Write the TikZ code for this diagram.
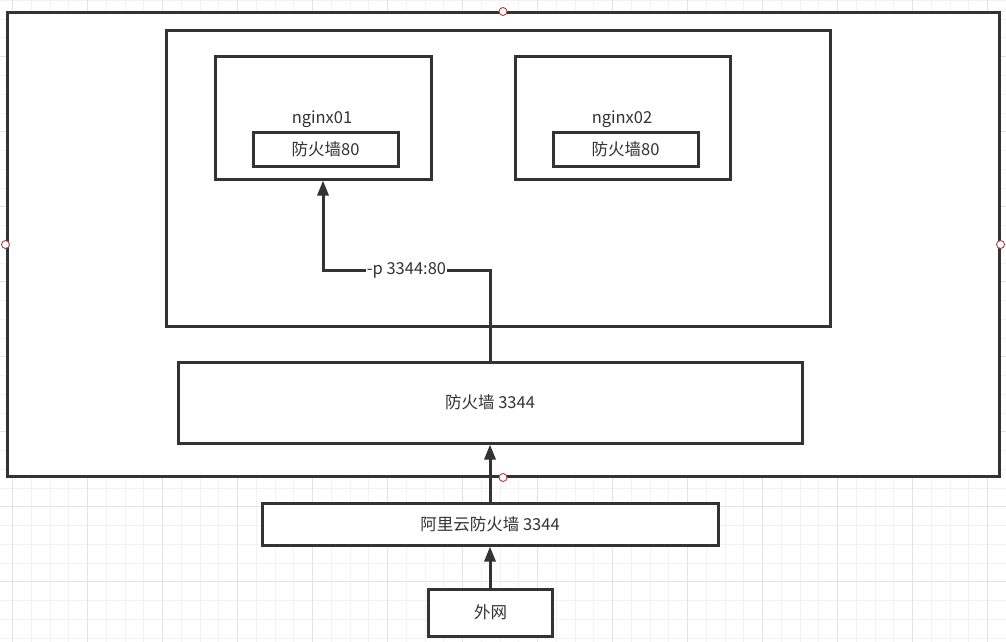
\documentclass[tikz,border=0pt]{standalone}
\usepackage{fontspec}
\setmainfont{Noto Sans CJK SC}
\usetikzlibrary{arrows.meta}
\definecolor{ink}{HTML}{333333}
\definecolor{gridminor}{HTML}{F2F2F2}
\definecolor{gridmajor}{HTML}{E3E3E3}
\definecolor{handle}{HTML}{A94442}
\tikzset{
  box/.style={draw=ink, line width=3pt, fill=white, rectangle, inner sep=0pt, text=ink, font=\fontsize{16.5}{19}\selectfont},
  txt/.style={text=ink, inner sep=0pt, font=\fontsize{16.5}{19}\selectfont},
  arr/.style={draw=ink, line width=3pt, -{Triangle[length=15pt,width=11pt]}},
  grab/.style={circle, draw=handle, fill=white, line width=0.9pt, minimum size=8pt, inner sep=0pt},
  lbl/.style={fill=white, text=ink, inner sep=1pt, font=\fontsize{16.5}{19}\selectfont}
}
\begin{document}
\begin{tikzpicture}[x=1pt,y=-1pt]
\useasboundingbox (0,0) rectangle (1006,642);
\fill[white] (0,0) rectangle (1006,642);
% grid
\begin{scope}
\clip (0,0) rectangle (1006,642);
\foreach \i in {0,...,54} {
  \draw[gridminor, line width=1pt] ({12.7+18.75*(\i-1)},0) -- ++(0,642);
}
\foreach \i in {0,...,35} {
  \draw[gridminor, line width=1pt] (0,{0.5+18.75*\i}) -- ++(1006,0);
}
\foreach \i in {0,...,14} {
  \draw[gridmajor, line width=1pt] ({12.7+75*\i},0) -- ++(0,642);
}
\foreach \i in {0,...,9} {
  \draw[gridmajor, line width=1pt] (0,{-18.3+75*\i}) -- ++(1006,0);
}
\end{scope}
% outer containers
\node[box, minimum width=992pt, minimum height=463pt] (outer) at (503,244.5) {};
\node[box, minimum width=664pt, minimum height=295pt] (cont) at (498,178.5) {};
% nginx boxes
\node[box, minimum width=216pt, minimum height=122pt] (n1) at (323,118) {};
\node[txt] (t1) at (322,119.5) {nginx01};
\node[box, minimum width=145pt, minimum height=34pt] (f1) at (325.5,149) {防火墙80};
\node[box, minimum width=215pt, minimum height=122pt] (n2) at (622.5,118) {};
\node[txt] (t2) at (622,119.5) {nginx02};
\node[box, minimum width=145pt, minimum height=34pt] (f2) at (625.5,149) {防火墙80};
% lower boxes
\node[box, minimum width=624pt, minimum height=81pt] (fw) at (490,402.5) {防火墙 3344};
\node[box, minimum width=456pt, minimum height=42pt] (ali) at (490,524) {阿里云防火墙 3344};
\node[box, minimum width=124pt, minimum height=47pt] (wai) at (490.5,612.5) {外网};
% connectors
\coordinate (bend) at (490,270);
\draw[arr] (wai.north -| ali.south) -- (ali.south);
\draw[arr] (ali.north) -- (fw.south);
\draw[arr] (fw.north) -- (bend) -| (n1.south) node[lbl, pos=0.25] {-p 3344:80};
% selection handles
\node[grab] (h1) at (outer.north) {};
\node[grab] (h2) at (outer.west) {};
\node[grab] (h3) at (outer.east) {};
\node[grab] (h4) at (outer.south) {};
\end{tikzpicture}
\end{document}
